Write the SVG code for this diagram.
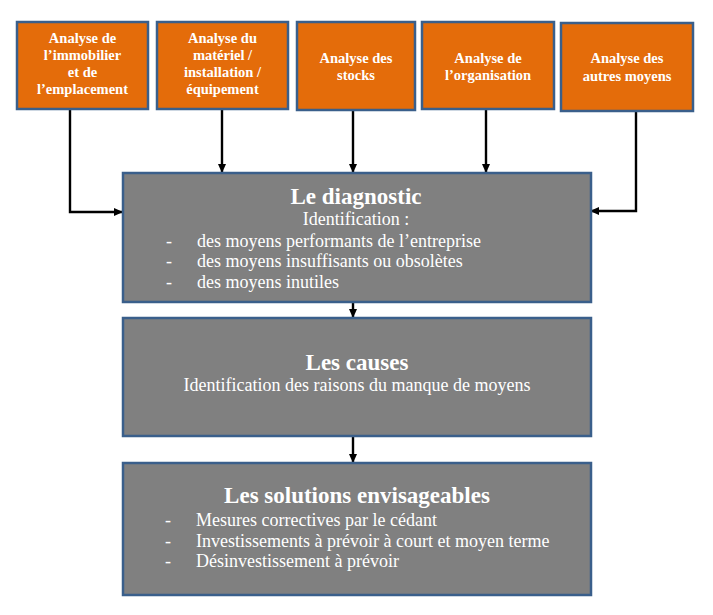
<svg xmlns="http://www.w3.org/2000/svg" width="713" height="615" viewBox="0 0 713 615">
<style>
.top{fill:#E46C0A;stroke:#3A5F8B;stroke-width:2.5}
.main{fill:#808080;stroke:#3A5F8B;stroke-width:2.5}
.tt{font-family:"Liberation Serif","Times New Roman",serif;font-weight:bold;font-size:14.5px;fill:#fff;text-anchor:middle}
.h{font-family:"Liberation Serif","Times New Roman",serif;font-weight:bold;font-size:23px;fill:#fff;text-anchor:middle}
.b{font-family:"Liberation Serif","Times New Roman",serif;font-size:18px;fill:#fff}
.bc{font-family:"Liberation Serif","Times New Roman",serif;font-size:18px;fill:#fff;text-anchor:middle}
.c{fill:none;stroke:#000;stroke-width:2.4;marker-end:url(#ah)}
</style>
<defs>
<marker id="ah" markerWidth="9" markerHeight="9" refX="8" refY="4" orient="auto" markerUnits="userSpaceOnUse">
<path d="M0,0 L9,4 L0,8 Z" fill="#000"/>
</marker>
</defs>
<rect width="713" height="615" fill="#fff"/>
<g id="connectors">
<path class="c" d="M70,109 V212 H122"/>
<path class="c" d="M222,109 V172"/>
<path class="c" d="M353,110 V172"/>
<path class="c" d="M486,109 V172"/>
<path class="c" d="M636,111 V211 H591"/>
<path class="c" d="M353,302 V317"/>
<path class="c" d="M353,436 V462"/>
</g>
<g id="n1">
<rect class="top" x="17" y="22" width="131" height="87"/>
<text class="tt" x="82.5" y="43">Analyse de</text>
<text class="tt" x="82.5" y="60">l’immobilier</text>
<text class="tt" x="82.5" y="77">et de</text>
<text class="tt" x="82.5" y="94">l’emplacement</text>
</g>
<g id="n2">
<rect class="top" x="157" y="22" width="131" height="87"/>
<text class="tt" x="222.5" y="43">Analyse du</text>
<text class="tt" x="222.5" y="60">matériel /</text>
<text class="tt" x="222.5" y="77">installation /</text>
<text class="tt" x="222.5" y="94">équipement</text>
</g>
<g id="n3">
<rect class="top" x="297" y="22" width="118" height="88"/>
<text class="tt" x="356" y="63">Analyse des</text>
<text class="tt" x="356" y="80">stocks</text>
</g>
<g id="n4">
<rect class="top" x="422" y="22" width="132" height="87"/>
<text class="tt" x="488" y="63">Analyse de</text>
<text class="tt" x="488" y="80">l’organisation</text>
</g>
<g id="n5">
<rect class="top" x="561" y="23" width="132" height="88"/>
<text class="tt" x="627" y="63">Analyse des</text>
<text class="tt" x="627" y="81">autres moyens</text>
</g>
<g id="diagnostic">
<rect class="main" x="123" y="173" width="468" height="129"/>
<text class="h" x="356" y="204">Le diagnostic</text>
<text class="bc" x="356" y="225">Identification :</text>
<text class="b" x="166" y="247">-</text>
<text class="b" x="197" y="247">des moyens performants de l’entreprise</text>
<text class="b" x="166" y="267">-</text>
<text class="b" x="197" y="267">des moyens insuffisants ou obsolètes</text>
<text class="b" x="166" y="288">-</text>
<text class="b" x="197" y="288">des moyens inutiles</text>
</g>
<g id="causes">
<rect class="main" x="123" y="318" width="468" height="118"/>
<text class="h" x="357" y="370">Les causes</text>
<text class="bc" x="357" y="391">Identification des raisons du manque de moyens</text>
</g>
<g id="solutions">
<rect class="main" x="123" y="463" width="468" height="132"/>
<text class="h" x="357" y="503">Les solutions envisageables</text>
<text class="b" x="165" y="526">-</text>
<text class="b" x="196" y="526">Mesures correctives par le cédant</text>
<text class="b" x="165" y="547">-</text>
<text class="b" x="196" y="547">Investissements à prévoir à court et moyen terme</text>
<text class="b" x="165" y="567">-</text>
<text class="b" x="196" y="567">Désinvestissement à prévoir</text>
</g>
</svg>
